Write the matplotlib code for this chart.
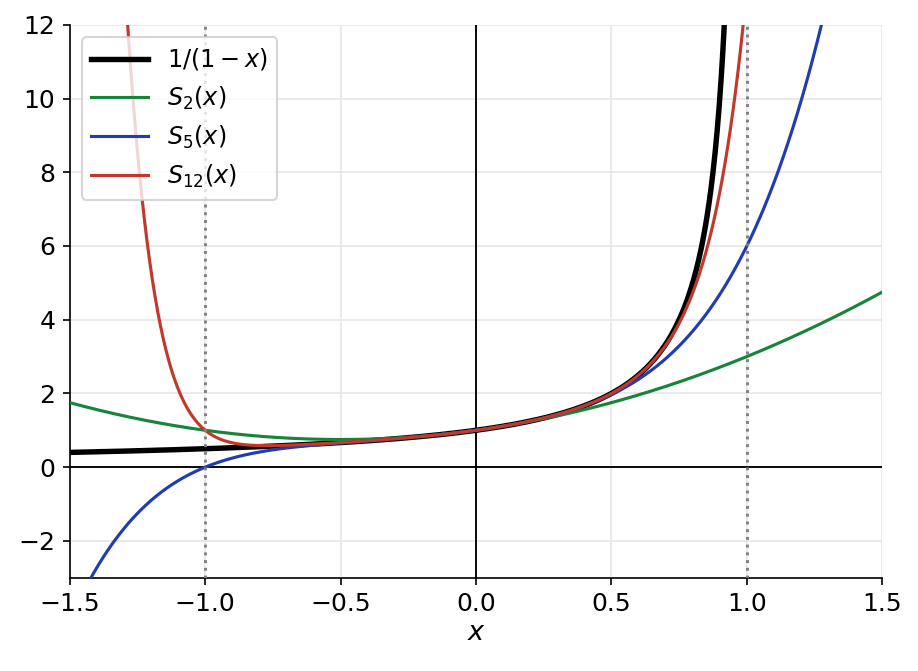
import numpy as np
import matplotlib.pyplot as plt

# partial sums S_n(x) = 1 + x + ... + x^n of the geometric series
degrees = [2, 5, 12]
colors = ['#17843a', '#1f3db0', '#c0392b']
x_min, x_max = -1.5, 1.5
y_min, y_max = -3, 12
x_ticks = [-1.5, -1.0, -0.5, 0.0, 0.5, 1.0, 1.5]
y_ticks = [-2, 0, 2, 4, 6, 8, 10, 12]


def main():
    plt.rcParams['font.family'] = ['DejaVu Sans']
    plt.rcParams['mathtext.fontset'] = 'dejavusans'

    fig, ax = plt.subplots(figsize=(9.19 / 1.5, 6.71 / 1.5), dpi=150)
    fig.subplots_adjust(left=0.076, right=0.96, top=0.963, bottom=0.139)

    x = np.linspace(x_min, x_max, 1201)
    xs = x[x < 0.995]
    ax.plot(xs, 1 / (1 - xs), color='black', linewidth=2.6, label=r'$1/(1-x)$', zorder=3)
    for n, c in zip(degrees, colors):
        s = sum(x ** k for k in range(n + 1))
        ax.plot(x, s, color=c, linewidth=1.5, label=r'$S_{%d}(x)$' % n, zorder=3)

    ax.axhline(0, color='black', linewidth=0.9, zorder=2)
    ax.axvline(0, color='black', linewidth=0.9, zorder=2)
    for v in (-1, 1):
        ax.axvline(v, color='grey', linestyle=':', linewidth=1.4, zorder=4)

    ax.set_xlim(x_min, x_max)
    ax.set_ylim(y_min, y_max)
    ax.set_xticks(x_ticks)
    ax.set_yticks(y_ticks)
    ax.tick_params(labelsize=12)
    ax.set_xlabel(r'$x$', fontsize=13, labelpad=2)
    ax.grid(True, color='#e6e6e6', linewidth=0.8)
    ax.set_axisbelow(True)
    for side in ('top', 'right'):
        ax.spines[side].set_visible(False)
    ax.legend(loc='upper left', fontsize=11.5, handlelength=2.35, framealpha=0.8)

    fig.savefig('out.png', dpi=150)


if __name__ == '__main__':
    main()
